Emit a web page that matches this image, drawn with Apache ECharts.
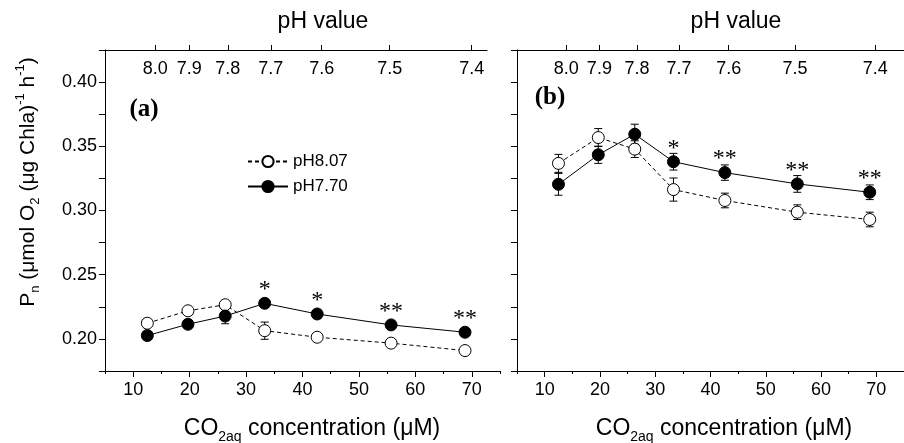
<!DOCTYPE html>
<html>
<head>
<meta charset="utf-8">
<script src="https://cdn.jsdelivr.net/npm/echarts@6/dist/echarts.min.js"></script>
<style>
  html, body { margin: 0; padding: 0; background: #fff; }
  #chart { width: 904px; height: 443px; }
</style>
</head>
<body>
<div id="chart"></div>
<script>
// CO2aq concentrations (uM), same for both panels
const co2 = [12.5, 19.7, 26.3, 33.3, 42.6, 55.7, 68.8];

// panel (a)
const aOpen = [0.2122, 0.2219, 0.2266, 0.2064, 0.2013, 0.1967, 0.1909];
const aOpenErr = [0.003, 0.003, 0.003, 0.0067, 0.003, 0.003, 0.003];
const aFilled = [0.2026, 0.2114, 0.2178, 0.2277, 0.2194, 0.2109, 0.2052];
const aFilledErr = [0.003, 0.003, 0.006, 0.003, 0.003, 0.003, 0.003];
const aSig = ['', '', '', '*', '*', '**', '**'];

// panel (b)
const bOpen = [0.3367, 0.3568, 0.3478, 0.3163, 0.3078, 0.2987, 0.2930];
const bOpenErr = [0.007, 0.007, 0.0065, 0.009, 0.0057, 0.0057, 0.0057];
const bFilled = [0.3204, 0.3434, 0.3594, 0.3380, 0.3295, 0.3207, 0.3142];
const bFilledErr = [0.0085, 0.0067, 0.0078, 0.0065, 0.006, 0.0065, 0.0057];
const bSig = ['', '', '', '*', '**', '**', '**'];

// top pH axis: label and where it sits on the CO2 scale
const phLabels = ['8.0', '7.9', '7.8', '7.7', '7.6', '7.5', '7.4'];
const phAt = [13.9, 19.9, 26.7, 34.3, 43.3, 55.3, 69.8];

// tick lists
const xMajor = [10, 20, 30, 40, 50, 60, 70];
const xMinor = [5, 15, 25, 35, 45, 55, 65, 75];
const yLabels = [0.20, 0.25, 0.30, 0.35, 0.40];

const SANS = 'Liberation Sans, Arial, sans-serif';
const SERIF = 'Liberation Serif, Times New Roman, serif';

const zip = (xs, ys) => xs.map((x, i) => [x, ys[i]]);
const errData = (ys, es) => co2.map((x, i) => [x, ys[i] - es[i], ys[i] + es[i]]);

function errBar(params, api) {
  const x = api.value(0);
  const lo = api.coord([x, api.value(1)]);
  const hi = api.coord([x, api.value(2)]);
  const w = 4;
  const st = { stroke: '#000', lineWidth: 1 };
  return {
    type: 'group',
    children: [
      { type: 'line', shape: { x1: lo[0], y1: lo[1], x2: hi[0], y2: hi[1] }, style: st },
      { type: 'line', shape: { x1: hi[0] - w, y1: hi[1], x2: hi[0] + w, y2: hi[1] }, style: st },
      { type: 'line', shape: { x1: lo[0] - w, y1: lo[1], x2: lo[0] + w, y2: lo[1] }, style: st }
    ]
  };
}

const axisLine = { lineStyle: { color: '#000', width: 1 } };

function bottomAxis(grid) {
  return {
    type: 'value', gridIndex: grid, position: 'bottom', min: 5, max: 75, interval: 5,
    axisLine: axisLine,
    axisTick: { length: 6, customValues: xMajor, lineStyle: { color: '#000' } },
    axisLabel: { customValues: xMajor, margin: 10, fontSize: 18, fontFamily: SANS, color: '#000' },
    splitLine: { show: false }
  };
}
function minorAxis(grid) {
  return {
    type: 'value', gridIndex: grid, position: 'bottom', min: 5, max: 75, interval: 5,
    axisLine: { show: false },
    axisTick: { length: 3, customValues: xMinor, lineStyle: { color: '#000' } },
    axisLabel: { show: false },
    splitLine: { show: false }
  };
}
function phAxis(grid, max) {
  return {
    type: 'value', gridIndex: grid, position: 'top', min: 5, max: max,
    axisLine: axisLine,
    axisTick: { length: 5, customValues: phAt, lineStyle: { color: '#000' } },
    axisLabel: {
      customValues: phAt, inside: true, margin: 10, fontSize: 18, fontFamily: SANS, color: '#000',
      formatter: v => phLabels[phAt.indexOf(v)]
    },
    splitLine: { show: false }
  };
}
function leftAxis(grid, labels) {
  return {
    type: 'value', gridIndex: grid, min: 0.175, max: 0.425, interval: 0.025,
    axisLine: { show: true, lineStyle: { color: '#000', width: 1 } },
    axisTick: { show: true, length: 6, lineStyle: { color: '#000' } },
    axisLabel: {
      show: labels, customValues: yLabels, margin: 8, fontSize: 18, fontFamily: SANS, color: '#000',
      formatter: v => v.toFixed(2)
    },
    splitLine: { show: false }
  };
}

function lineSeries(name, xi, yi, ys, open, sig) {
  const s = {
    name: name, type: 'line', xAxisIndex: xi, yAxisIndex: yi,
    data: zip(co2, ys), symbol: 'circle', symbolSize: 12, z: 3,
    lineStyle: { color: '#000', width: 1, type: open ? [4, 3] : 'solid' },
    itemStyle: open ? { color: '#fff', borderColor: '#000', borderWidth: 1 } : { color: '#000', borderColor: '#000', borderWidth: 1 },
    emphasis: { disabled: true },
    animation: false
  };
  if (sig) {
    s.label = {
      show: true, position: 'top', distance: -5,
      formatter: p => sig[p.dataIndex],
      fontFamily: SERIF, fontSize: 24, color: '#000'
    };
  }
  return s;
}
function errSeries(xi, yi, ys, es) {
  return {
    type: 'custom', xAxisIndex: xi, yAxisIndex: yi, z: 2,
    renderItem: errBar, data: errData(ys, es), silent: true, animation: false
  };
}

const sub = { fontSize: 13, fontFamily: SANS, fill: '#000', verticalAlign: 'bottom', lineHeight: 13 };
const sup = { fontSize: 13, fontFamily: SANS, fill: '#000', verticalAlign: 'top', lineHeight: 16 };

function xTitle(x) {
  return {
    type: 'text', x: x, y: 429,
    style: {
      text: '{a|CO}{s|2aq}{a| concentration (μM)}',
      rich: {
        a: { fontSize: 23, fontFamily: SANS, fill: '#000', lineHeight: 30 },
        s: { fontSize: 14, fontFamily: SANS, fill: '#000', verticalAlign: 'bottom', lineHeight: 14 }
      },
      align: 'center', verticalAlign: 'middle'
    }
  };
}
function plain(text, x, y, size, font, weight) {
  return {
    type: 'text', x: x, y: y,
    style: { text: text, fontSize: size, fontFamily: font, fontWeight: weight || 'normal', fill: '#000', align: 'center', verticalAlign: 'middle' }
  };
}

const chart = echarts.init(document.getElementById('chart'));
chart.setOption({
  animation: false,
  grid: [
    { left: 105, top: 50, width: 395, height: 321 },
    { left: 517, top: 50, width: 396, height: 321 },
    { left: 105, top: 50, width: 382, height: 321 }
  ],
  xAxis: [
    bottomAxis(0), phAxis(2, 72.5),
    bottomAxis(1), phAxis(1, 75),
    minorAxis(0), minorAxis(1)
  ],
  yAxis: [
    leftAxis(0, true),
    leftAxis(1, false),
    { type: 'value', gridIndex: 2, min: 0.175, max: 0.425, show: false }
  ],
  legend: {
    left: 247, top: 153, orient: 'vertical', itemWidth: 40, itemHeight: 14, itemGap: 8,
    padding: 0,
    textStyle: { fontSize: 17, fontFamily: SANS, color: '#000' },
    data: ['pH8.07', 'pH7.70']
  },
  graphic: [
    plain('pH value', 323, 22, 23, SANS),
    plain('pH value', 736, 22, 23, SANS),
    plain('(a)', 144, 110, 25, SERIF, 'bold'),
    plain('(b)', 550, 98, 25, SERIF, 'bold'),
    xTitle(312), xTitle(724),
    {
      type: 'text', x: 28, y: 182, rotation: Math.PI / 2,
      style: {
        text: '{a|P}{s|n}{a| (μmol O}{s|2}{a| (μg Chla)}{p|-1}{a| h}{p|-1}{a|)}',
        rich: {
          a: { fontSize: 21, fontFamily: SANS, fill: '#000', lineHeight: 28 },
          s: sub, p: sup
        },
        align: 'center', verticalAlign: 'middle'
      }
    }
  ],
  series: [
    errSeries(0, 0, aOpen, aOpenErr),
    errSeries(0, 0, aFilled, aFilledErr),
    lineSeries('pH8.07', 0, 0, aOpen, true),
    lineSeries('pH7.70', 0, 0, aFilled, false, aSig),
    errSeries(2, 1, bOpen, bOpenErr),
    errSeries(2, 1, bFilled, bFilledErr),
    lineSeries('pH8.07', 2, 1, bOpen, true),
    lineSeries('pH7.70', 2, 1, bFilled, false, bSig)
  ]
});
</script>
</body>
</html>
